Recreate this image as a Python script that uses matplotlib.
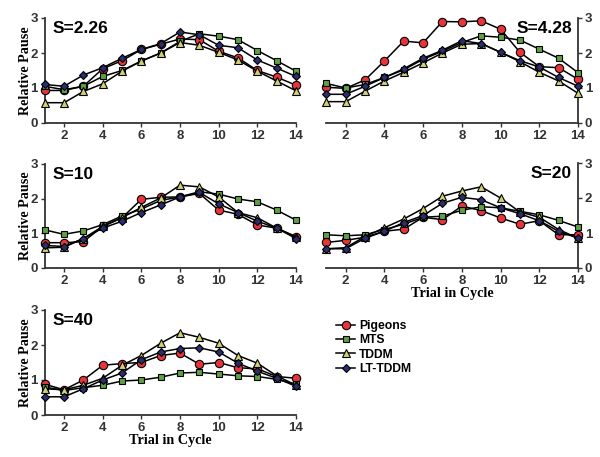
import matplotlib
matplotlib.use("Agg")
import matplotlib.pyplot as plt
from matplotlib.lines import Line2D

trials = list(range(1, 15))
xticks = [2, 4, 6, 8, 10, 12, 14]
yticks = [0, 1, 2, 3]

series_names = ["Pigeons", "MTS", "TDDM", "LT-TDDM"]

# S=2.26
p1_pigeons = [0.93, 0.93, 1.05, 1.55, 1.78, 2.10, 2.25, 2.40, 2.38, 2.05, 1.86, 1.50, 1.31, 1.08]
p1_mts     = [1.05, 0.95, 1.05, 1.33, 1.50, 1.77, 2.00, 2.33, 2.55, 2.48, 2.38, 2.07, 1.78, 1.48]
p1_tddm    = [0.58, 0.58, 0.90, 1.12, 1.48, 1.77, 2.00, 2.30, 2.22, 2.02, 1.80, 1.48, 1.20, 0.92]
p1_lt      = [1.10, 1.05, 1.37, 1.58, 1.85, 2.10, 2.27, 2.60, 2.52, 2.22, 2.15, 1.80, 1.57, 1.33]

# S=4.28
p2_pigeons = [1.02, 0.99, 1.23, 1.77, 2.34, 2.29, 2.90, 2.89, 2.92, 2.68, 2.02, 1.61, 1.58, 1.25]
p2_mts     = [1.13, 1.00, 1.10, 1.30, 1.52, 1.82, 2.05, 2.30, 2.49, 2.45, 2.37, 2.11, 1.85, 1.44]
p2_tddm    = [0.61, 0.61, 0.91, 1.20, 1.45, 1.72, 2.00, 2.25, 2.27, 2.02, 1.75, 1.45, 1.20, 0.85]
p2_lt      = [0.82, 0.82, 1.05, 1.30, 1.55, 1.85, 2.08, 2.35, 2.27, 2.02, 1.78, 1.60, 1.30, 1.05]

# S=10
p3_pigeons = [0.73, 0.73, 0.76, 1.20, 1.45, 1.98, 2.04, 2.05, 2.15, 1.67, 1.55, 1.24, 1.15, 0.90]
p3_mts     = [1.10, 0.97, 1.07, 1.25, 1.50, 1.70, 1.95, 2.05, 2.20, 2.13, 1.99, 1.91, 1.67, 1.38]
p3_tddm    = [0.58, 0.60, 0.85, 1.20, 1.45, 1.75, 2.02, 2.39, 2.34, 2.05, 1.60, 1.45, 1.15, 0.90]
p3_lt      = [0.65, 0.62, 0.85, 1.15, 1.35, 1.60, 1.82, 2.05, 2.18, 1.85, 1.60, 1.35, 1.15, 0.85]

# S=20
p4_pigeons = [0.73, 0.79, 0.88, 1.05, 1.11, 1.45, 1.38, 1.77, 1.64, 1.43, 1.25, 1.35, 0.95, 0.95]
p4_mts     = [0.95, 0.92, 0.95, 1.10, 1.25, 1.45, 1.48, 1.65, 1.75, 1.72, 1.62, 1.52, 1.36, 1.17]
p4_tddm    = [0.55, 0.58, 0.90, 1.15, 1.40, 1.70, 2.05, 2.20, 2.32, 2.00, 1.60, 1.45, 1.10, 0.85]
p4_lt      = [0.55, 0.55, 0.85, 1.05, 1.30, 1.50, 1.85, 2.02, 1.95, 1.72, 1.55, 1.35, 1.05, 0.85]

# S=40
p5_pigeons = [0.88, 0.72, 1.00, 1.42, 1.47, 1.50, 1.70, 1.77, 1.45, 1.50, 1.35, 1.32, 1.10, 1.05]
p5_mts     = [0.80, 0.70, 0.78, 0.85, 0.97, 1.00, 1.08, 1.20, 1.22, 1.17, 1.12, 1.10, 1.02, 0.88]
p5_tddm    = [0.75, 0.72, 0.85, 1.05, 1.42, 1.70, 2.05, 2.35, 2.22, 2.05, 1.70, 1.48, 1.12, 0.85]
p5_lt      = [0.52, 0.52, 0.75, 1.00, 1.20, 1.58, 1.80, 1.90, 1.92, 1.80, 1.48, 1.25, 1.05, 0.82]

panel_titles = ["S=2.26", "S=4.28", "S=10", "S=20", "S=40"]
panels = [
    [p1_pigeons, p1_mts, p1_tddm, p1_lt],
    [p2_pigeons, p2_mts, p2_tddm, p2_lt],
    [p3_pigeons, p3_mts, p3_tddm, p3_lt],
    [p4_pigeons, p4_mts, p4_tddm, p4_lt],
    [p5_pigeons, p5_mts, p5_tddm, p5_lt],
]

styles = [
    dict(marker="o", markerfacecolor="#e8333a", markersize=6),
    dict(marker="s", markerfacecolor="#5fa040", markersize=4.5),
    dict(marker="^", markerfacecolor="#d0d070", markersize=5.5),
    dict(marker="D", markerfacecolor="#2b2d6e", markersize=4.5),
]

SANS = "Liberation Sans"
SERIF = "Liberation Serif"

W, H = 600, 457
fig = plt.figure(figsize=(6.0, 4.57), dpi=100)

# (left px of x=1, right px of x=14, top px of y=3, bottom px of y=0, side)
boxes = [
    (44.7, 296, 18, 123, "left"),
    (326.3, 578, 18, 123, "right"),
    (44.7, 296, 164, 268, "left"),
    (326.3, 578, 163, 268, "right"),
    (44.7, 296, 310, 415, "left"),
]

for i, (l, r, t, b, side) in enumerate(boxes):
    ax = fig.add_axes([l / W, 1 - b / H, (r - l) / W, (b - t) / H])
    ax.set_facecolor("none")
    for vals, st in zip(panels[i], styles):
        ax.plot(trials, vals, color="black", linewidth=1.1,
                markeredgecolor="black", markeredgewidth=0.8, clip_on=False,
                zorder=3, **st)
    ax.set_xlim(1, 14)
    ax.set_ylim(0, 3)
    ax.set_xticks(xticks)
    ax.set_yticks(yticks)
    ax.spines["top"].set_visible(False)
    if side == "left":
        ax.spines["right"].set_visible(False)
        ax.text(0.03, 0.975, panel_titles[i], transform=ax.transAxes,
                ha="left", va="top", fontsize=12.5, fontweight="bold",
                family=SANS)
        ax.set_ylabel("Relative Pause", family=SERIF, fontweight="bold",
                      fontsize=10.2, labelpad=-1)
    else:
        ax.spines["left"].set_visible(False)
        ax.yaxis.tick_right()
        ax.text(0.975, 0.975, panel_titles[i], transform=ax.transAxes,
                ha="right", va="top", fontsize=12.5, fontweight="bold",
                family=SANS)
    for s in ax.spines.values():
        s.set_linewidth(1.3)
        s.set_color("#333333")
    ax.tick_params(axis="both", length=3, width=1.0, pad=2, labelsize=9.5,
                   colors="#333333")
    for lab in ax.get_xticklabels() + ax.get_yticklabels():
        lab.set_fontweight("bold")
        lab.set_family(SANS)
    if i in (3, 4):
        ax.set_xlabel("Trial in Cycle", family=SERIF, fontweight="bold",
                      fontsize=10.2, labelpad=0)

handles = [Line2D([], [], color="black", linewidth=1.1,
                  markeredgecolor="black", markeredgewidth=0.8, **st)
           for st in styles]
leg = fig.legend(handles, series_names, loc="upper left",
                 bbox_to_anchor=(325 / W, 1 - 309 / H), frameon=False,
                 handlelength=1.6, handletextpad=0.3, labelspacing=0.2,
                 prop=dict(family=SANS, weight="bold", size=8.7))

fig.savefig("out.png", dpi=100)
